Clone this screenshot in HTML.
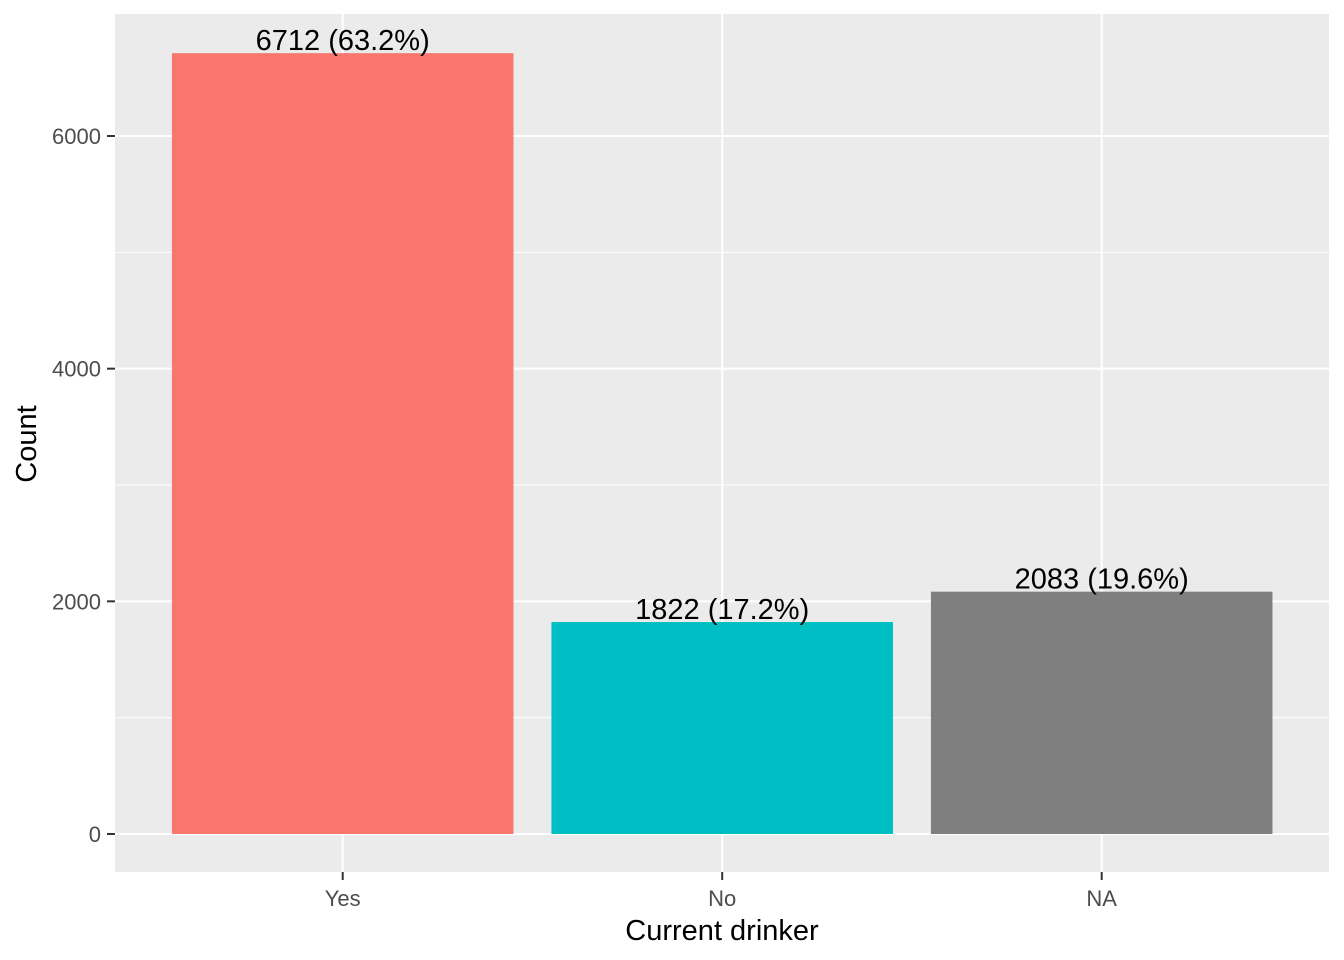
<!DOCTYPE html>
<html><head><meta charset="utf-8"><style>
body{margin:0;background:#fff}
svg{display:block;font-family:"Liberation Sans",Arial,sans-serif}
</style></head><body>
<svg id="chart" width="1344" height="960">
<rect x="115" y="14" width="1214" height="858" fill="#ebebeb"/>
<g id="grid"></g><g id="bars"></g><g id="axes"></g>
<text x="722" y="940" text-anchor="middle" font-size="29" fill="#000">Current drinker</text>
<text transform="translate(36,444) rotate(-90)" text-anchor="middle" font-size="29" fill="#000">Count</text>
</svg>
<script>
const categories = ["Yes","No","NA"];
const counts = [6712,1822,2083];
const labels = ["6712 (63.2%)","1822 (17.2%)","2083 (19.6%)"];
const colors = ["#f8766d","#00bfc4","#7f7f7f"];
const yTicks = [0,2000,4000,6000];
const yMinor = [1000,3000,5000];
const NS="http://www.w3.org/2000/svg";
const y0=834, pxPer=698/6000;
const y=v=>y0-v*pxPer;
const band=379.5, x0=115+0.6*band;
const x=i=>x0+band*i;
function mk(tag,attrs,parent,text){const e=document.createElementNS(NS,tag);for(const k in attrs)e.setAttribute(k,attrs[k]);if(text!==undefined)e.textContent=text;document.getElementById(parent).appendChild(e);return e;}
yMinor.forEach(v=>{const l=mk('line',{x1:115,x2:1329,y1:y(v),y2:y(v),stroke:'#fff','stroke-width':1},'grid');

});
yTicks.forEach(v=>{const l=mk('line',{x1:115,x2:1329,y1:y(v),y2:y(v),stroke:'#fff','stroke-width':2},'grid');


const t=mk('line',{x1:107,x2:115,y1:y(v),y2:y(v),stroke:'#333','stroke-width':2},'axes');


const tx=mk('text',{x:101,y:y(v)+8,'text-anchor':'end','font-size':22,fill:'#4d4d4d'},'axes',String(v));

});
categories.forEach((c,i)=>{const g=mk('line',{x1:x(i),x2:x(i),y1:14,y2:872,stroke:'#fff','stroke-width':2},'grid');


const w=band*0.9;
const b=mk('rect',{x:x(i)-w/2,y:y(counts[i]),width:w,height:y0-y(counts[i]),fill:colors[i]},'bars');


const lb=mk('text',{x:x(i),y:y(counts[i])-3,'text-anchor':'middle','font-size':29,fill:'#000'},'bars',labels[i]);


const t=mk('line',{x1:x(i),x2:x(i),y1:872,y2:880,stroke:'#333','stroke-width':2},'axes');


const tx=mk('text',{x:x(i),y:906,'text-anchor':'middle','font-size':22,fill:'#4d4d4d'},'axes',c);

});
</script>
</body></html>
